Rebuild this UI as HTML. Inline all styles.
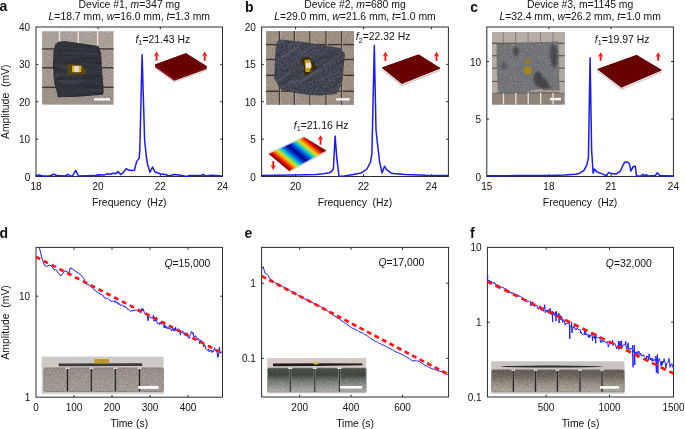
<!DOCTYPE html>
<html><head><meta charset="utf-8"><style>
html,body{margin:0;padding:0;background:#fff;overflow:hidden}
svg{display:block;filter:blur(0.3px)}
text{font-family:"Liberation Sans", sans-serif}
</style></head><body>
<svg width="685" height="429" viewBox="0 0 685 429" font-family='"Liberation Sans", sans-serif' fill="#111">
<defs>
<filter id="soft" x="-5%" y="-5%" width="110%" height="110%"><feGaussianBlur stdDeviation="0.45"/></filter>
<filter id="soft2" x="-5%" y="-5%" width="110%" height="110%"><feGaussianBlur stdDeviation="0.8"/></filter>
<linearGradient id="blkE" x1="0" y1="0" x2="0" y2="1"><stop offset="0" stop-color="#4a5048"/><stop offset="0.3" stop-color="#40463e"/><stop offset="0.55" stop-color="#767a74"/><stop offset="1" stop-color="#acaea8"/></linearGradient>
<linearGradient id="blkF" x1="0" y1="0" x2="0" y2="1"><stop offset="0" stop-color="#5e5951"/><stop offset="0.3" stop-color="#6e695f"/><stop offset="0.65" stop-color="#958f85"/><stop offset="1" stop-color="#aca69c"/></linearGradient>
<linearGradient id="blkD" x1="0" y1="0" x2="0" y2="1"><stop offset="0" stop-color="#958f88"/><stop offset="1" stop-color="#a09b94"/></linearGradient>
<linearGradient id="bgE" x1="0" y1="0" x2="1" y2="0"><stop offset="0" stop-color="#d6cbc8"/><stop offset="1" stop-color="#d2c8c2"/></linearGradient>
<filter id="grain" x="0" y="0" width="100%" height="100%" color-interpolation-filters="sRGB"><feTurbulence type="fractalNoise" baseFrequency="1.1" numOctaves="2" seed="5"/><feColorMatrix type="matrix" values="1.4 0 0 0 -0.2  1.4 0 0 0 -0.2  1.4 0 0 0 -0.2  0 0 0 0 1"/></filter>
<filter id="grainL" x="0" y="0" width="100%" height="100%" color-interpolation-filters="sRGB"><feTurbulence type="fractalNoise" baseFrequency="0.5" numOctaves="2" seed="9"/><feColorMatrix type="matrix" values="1.4 0 0 0 -0.2  1.4 0 0 0 -0.2  1.4 0 0 0 -0.2  0 0 0 0 1"/></filter>
<filter id="blur15" x="-20%" y="-20%" width="140%" height="140%"><feGaussianBlur stdDeviation="1.3"/></filter>
</defs>
<rect width="685" height="429" fill="#fff"/>
<text x="-0.4" y="11.3" font-size="14" text-anchor="start" font-weight="bold" >a</text>
<text x="244.9" y="11.5" font-size="14" text-anchor="start" font-weight="bold" >b</text>
<text x="470.2" y="11.5" font-size="14" text-anchor="start" font-weight="bold" >c</text>
<text x="-0.4" y="238.2" font-size="14" text-anchor="start" font-weight="bold" >d</text>
<text x="244.4" y="238.2" font-size="14" text-anchor="start" font-weight="bold" >e</text>
<text x="469.9" y="237.9" font-size="14" text-anchor="start" font-weight="bold" >f</text>
<text x="129.3" y="7.5" font-size="10.4" text-anchor="middle">Device #1, <tspan font-style="italic">m</tspan>=347 mg</text>
<text x="129.3" y="19.6" font-size="10.4" text-anchor="middle"><tspan font-style="italic">L</tspan>=18.7 mm, <tspan font-style="italic">w</tspan>=16.0 mm, <tspan font-style="italic">t</tspan>=1.3 mm</text>
<text x="355" y="7.5" font-size="10.4" text-anchor="middle">Device #2, <tspan font-style="italic">m</tspan>=680 mg</text>
<text x="355" y="19.6" font-size="10.4" text-anchor="middle"><tspan font-style="italic">L</tspan>=29.0 mm, <tspan font-style="italic">w</tspan>=21.6 mm, <tspan font-style="italic">t</tspan>=1.0 mm</text>
<text x="580.1" y="7.5" font-size="10.4" text-anchor="middle">Device #3, m=1145 mg</text>
<text x="580.1" y="19.6" font-size="10.4" text-anchor="middle"><tspan font-style="italic">L</tspan>=32.4 mm, <tspan font-style="italic">w</tspan>=26.2 mm, <tspan font-style="italic">t</tspan>=1.0 mm</text>
<text x="129.3" y="206.1" font-size="10.4" text-anchor="middle" font-weight="normal" >Frequency  (Hz)</text>
<text x="355" y="206.1" font-size="10.4" text-anchor="middle" font-weight="normal" >Frequency  (Hz)</text>
<text x="580.1" y="206.1" font-size="10.4" text-anchor="middle" font-weight="normal" >Frequency  (Hz)</text>
<text x="129.3" y="427.2" font-size="10.4" text-anchor="middle" font-weight="normal" >Time (s)</text>
<text x="355" y="427.2" font-size="10.4" text-anchor="middle" font-weight="normal" >Time (s)</text>
<text x="580.5" y="427.2" font-size="10.4" text-anchor="middle" font-weight="normal" >Time (s)</text>
<text transform="translate(9.3,101.8) rotate(-90)" font-size="10.4" text-anchor="middle">Amplitude  (mV)</text>
<text transform="translate(9.3,322.4) rotate(-90)" font-size="10.4" text-anchor="middle">Amplitude  (mV)</text>
<rect x="36" y="27" width="186.5" height="149.5" fill="none" stroke="#2a2a2a" stroke-width="1"/>
<path d="M98.1,176.5v-2.3M98.1,27v2.3M160.3,176.5v-2.3M160.3,27v2.3M36,139.12h2.3M222.5,139.12h-2.3M36,101.75h2.3M222.5,101.75h-2.3M36,64.38h2.3M222.5,64.38h-2.3" stroke="#2a2a2a" stroke-width="1" fill="none"/>
<text x="36" y="190" font-size="10" text-anchor="middle" font-weight="normal" >18</text>
<text x="98.1" y="190" font-size="10" text-anchor="middle" font-weight="normal" >20</text>
<text x="160.3" y="190" font-size="10" text-anchor="middle" font-weight="normal" >22</text>
<text x="222.5" y="190" font-size="10" text-anchor="middle" font-weight="normal" >24</text>
<text x="30.2" y="180.5" font-size="10" text-anchor="end" font-weight="normal" >0</text>
<text x="30.2" y="143.12" font-size="10" text-anchor="end" font-weight="normal" >10</text>
<text x="30.2" y="105.75" font-size="10" text-anchor="end" font-weight="normal" >20</text>
<text x="30.2" y="68.38" font-size="10" text-anchor="end" font-weight="normal" >30</text>
<text x="30.2" y="31" font-size="10" text-anchor="end" font-weight="normal" >40</text>
<rect x="261.6" y="27" width="186.8" height="149.5" fill="none" stroke="#2a2a2a" stroke-width="1"/>
<path d="M295.6,176.5v-2.3M295.6,27v2.3M363.5,176.5v-2.3M363.5,27v2.3M431.4,176.5v-2.3M431.4,27v2.3M261.6,139.12h2.3M448.4,139.12h-2.3M261.6,101.75h2.3M448.4,101.75h-2.3M261.6,64.38h2.3M448.4,64.38h-2.3" stroke="#2a2a2a" stroke-width="1" fill="none"/>
<text x="295.6" y="190" font-size="10" text-anchor="middle" font-weight="normal" >20</text>
<text x="363.5" y="190" font-size="10" text-anchor="middle" font-weight="normal" >22</text>
<text x="431.4" y="190" font-size="10" text-anchor="middle" font-weight="normal" >24</text>
<text x="255.8" y="180.5" font-size="10" text-anchor="end" font-weight="normal" >0</text>
<text x="255.8" y="143.12" font-size="10" text-anchor="end" font-weight="normal" >5</text>
<text x="255.8" y="105.75" font-size="10" text-anchor="end" font-weight="normal" >10</text>
<text x="255.8" y="68.38" font-size="10" text-anchor="end" font-weight="normal" >15</text>
<text x="255.8" y="31" font-size="10" text-anchor="end" font-weight="normal" >20</text>
<rect x="486.8" y="27" width="186.6" height="149.5" fill="none" stroke="#2a2a2a" stroke-width="1"/>
<path d="M548.9,176.5v-2.3M548.9,27v2.3M611.1,176.5v-2.3M611.1,27v2.3M486.8,119h2.3M673.4,119h-2.3M486.8,61.5h2.3M673.4,61.5h-2.3" stroke="#2a2a2a" stroke-width="1" fill="none"/>
<text x="486.8" y="190" font-size="10" text-anchor="middle" font-weight="normal" >15</text>
<text x="548.9" y="190" font-size="10" text-anchor="middle" font-weight="normal" >18</text>
<text x="611.1" y="190" font-size="10" text-anchor="middle" font-weight="normal" >21</text>
<text x="673.4" y="190" font-size="10" text-anchor="middle" font-weight="normal" >24</text>
<text x="481" y="180.5" font-size="10" text-anchor="end" font-weight="normal" >0</text>
<text x="481" y="123" font-size="10" text-anchor="end" font-weight="normal" >5</text>
<text x="481" y="65.5" font-size="10" text-anchor="end" font-weight="normal" >10</text>
<rect x="36" y="247.4" width="186.5" height="149.8" fill="none" stroke="#2a2a2a" stroke-width="1"/>
<path d="M74,397.2v-2.3M74,247.4v2.3M112,397.2v-2.3M112,247.4v2.3M150,397.2v-2.3M150,247.4v2.3M188,397.2v-2.3M188,247.4v2.3M36,296.2h2.3M222.5,296.2h-2.3" stroke="#2a2a2a" stroke-width="1" fill="none"/>
<text x="36" y="410.7" font-size="10" text-anchor="middle" font-weight="normal" >0</text>
<text x="74" y="410.7" font-size="10" text-anchor="middle" font-weight="normal" >100</text>
<text x="112" y="410.7" font-size="10" text-anchor="middle" font-weight="normal" >200</text>
<text x="150" y="410.7" font-size="10" text-anchor="middle" font-weight="normal" >300</text>
<text x="188" y="410.7" font-size="10" text-anchor="middle" font-weight="normal" >400</text>
<text x="30.2" y="401.2" font-size="10" text-anchor="end" font-weight="normal" >1</text>
<text x="30.2" y="300.2" font-size="10" text-anchor="end" font-weight="normal" >10</text>
<rect x="261.6" y="247.4" width="187" height="149.6" fill="none" stroke="#2a2a2a" stroke-width="1"/>
<path d="M299.7,397v-2.3M299.7,247.4v2.3M351.1,397v-2.3M351.1,247.4v2.3M402.5,397v-2.3M402.5,247.4v2.3M261.6,283.3h2.3M448.6,283.3h-2.3M261.6,358.3h2.3M448.6,358.3h-2.3" stroke="#2a2a2a" stroke-width="1" fill="none"/>
<text x="299.7" y="410.5" font-size="10" text-anchor="middle" font-weight="normal" >200</text>
<text x="351.1" y="410.5" font-size="10" text-anchor="middle" font-weight="normal" >400</text>
<text x="402.5" y="410.5" font-size="10" text-anchor="middle" font-weight="normal" >600</text>
<text x="255.8" y="287.3" font-size="10" text-anchor="end" font-weight="normal" >1</text>
<text x="255.8" y="362.3" font-size="10" text-anchor="end" font-weight="normal" >0.1</text>
<rect x="487.4" y="247.4" width="186.1" height="149.6" fill="none" stroke="#2a2a2a" stroke-width="1"/>
<path d="M546.1,397v-2.3M546.1,247.4v2.3M609.5,397v-2.3M609.5,247.4v2.3M487.4,322.2h2.3M673.5,322.2h-2.3" stroke="#2a2a2a" stroke-width="1" fill="none"/>
<text x="546.1" y="410.5" font-size="10" text-anchor="middle" font-weight="normal" >500</text>
<text x="609.5" y="410.5" font-size="10" text-anchor="middle" font-weight="normal" >1000</text>
<text x="673.5" y="410.5" font-size="10" text-anchor="middle" font-weight="normal" >1500</text>
<text x="481.6" y="401" font-size="10" text-anchor="end" font-weight="normal" >0.1</text>
<text x="481.6" y="326.2" font-size="10" text-anchor="end" font-weight="normal" >1</text>
<text x="481.6" y="251.4" font-size="10" text-anchor="end" font-weight="normal" >10</text>
<clipPath id="cpA"><polygon points="58.5,41.8 64.8,41 98.5,45.9 101.1,53 102,69 103.8,91.1 102.9,94.7 75.4,97 57.7,97.3 56.8,92 54.2,83.1 52.8,65.4 53.5,51.3 55.2,44.2"/></clipPath>
<clipPath id="cpAr"><rect x="42.1" y="31.3" width="71.4" height="73.3"/></clipPath>
<g filter="url(#soft)">
<rect x="42.1" y="31.3" width="71.4" height="17.2" fill="#a9a098" />
<rect x="42.1" y="48.5" width="71.4" height="19" fill="#a0968e" />
<rect x="42.1" y="67.5" width="71.4" height="19.4" fill="#a29890" />
<rect x="42.1" y="86.9" width="71.4" height="17.7" fill="#9c928a" />
<rect x="42.1" y="31.3" width="71.4" height="73.3" fill="#000" filter="url(#grain)" style="mix-blend-mode:overlay" opacity="0.2"/>
<rect x="42.1" y="48.3" width="71.4" height="1.2" fill="#2e2622" />
<rect x="42.1" y="67.2" width="71.4" height="1.2" fill="#2e2622" />
<rect x="42.1" y="86.6" width="71.4" height="1.2" fill="#2e2622" />
<rect x="58.8" y="31.3" width="1.4" height="17" fill="#f0dcdc" />
<rect x="77.5" y="31.3" width="1.4" height="17" fill="#f0dcdc" />
<rect x="96.9" y="31.3" width="1.4" height="17" fill="#f0dcdc" />
<polygon points="58.5,41.8 64.8,41 98.5,45.9 101.1,53 102,69 103.8,91.1 102.9,94.7 75.4,97 57.7,97.3 56.8,92 54.2,83.1 52.8,65.4 53.5,51.3 55.2,44.2" fill="#313339"/>
<rect x="50" y="40" width="56" height="60" fill="#000" filter="url(#grain)" style="mix-blend-mode:overlay" clip-path="url(#cpA)" opacity="0.25"/>
<g clip-path="url(#cpA)" opacity="0.45"><line x1="94.54" y1="48.66" x2="118.87" y2="49.39" stroke="#24272e" stroke-width="0.86"/><line x1="71.28" y1="84.37" x2="86.39" y2="84.83" stroke="#24272e" stroke-width="0.81"/><line x1="93.82" y1="42.62" x2="110.2" y2="43.11" stroke="#545862" stroke-width="1.36"/><line x1="58.51" y1="80.66" x2="83.76" y2="81.42" stroke="#545862" stroke-width="1.19"/><line x1="43.9" y1="92.38" x2="50.51" y2="92.58" stroke="#24272e" stroke-width="1.14"/><line x1="102.08" y1="80.13" x2="125.5" y2="80.83" stroke="#24272e" stroke-width="1.13"/><line x1="76.28" y1="94.53" x2="90.57" y2="94.96" stroke="#24272e" stroke-width="1.28"/><line x1="99.44" y1="95.28" x2="115.43" y2="95.76" stroke="#545862" stroke-width="1.52"/><line x1="103.54" y1="51.6" x2="130.18" y2="52.4" stroke="#4a4e58" stroke-width="0.72"/><line x1="102.34" y1="92.05" x2="120.36" y2="92.59" stroke="#1c1e24" stroke-width="1.57"/><line x1="78.43" y1="58.29" x2="105.61" y2="59.11" stroke="#24272e" stroke-width="1.45"/><line x1="44.14" y1="74.57" x2="55.97" y2="74.93" stroke="#24272e" stroke-width="1.4"/><line x1="64.76" y1="78.89" x2="91.95" y2="79.71" stroke="#4a4e58" stroke-width="1.38"/><line x1="83.15" y1="45.93" x2="91.74" y2="46.19" stroke="#24272e" stroke-width="0.76"/><line x1="87.43" y1="62.12" x2="104.7" y2="62.64" stroke="#24272e" stroke-width="0.91"/><line x1="52.45" y1="77.89" x2="63.9" y2="78.23" stroke="#1c1e24" stroke-width="0.61"/><line x1="95.34" y1="71.76" x2="106.91" y2="72.11" stroke="#4a4e58" stroke-width="1.11"/><line x1="58.7" y1="67.17" x2="77.85" y2="67.75" stroke="#545862" stroke-width="1.56"/><line x1="95.13" y1="62.87" x2="124.04" y2="63.74" stroke="#1c1e24" stroke-width="1.54"/><line x1="76.8" y1="70.56" x2="93.03" y2="71.05" stroke="#4a4e58" stroke-width="0.66"/><line x1="54.39" y1="73.49" x2="72.5" y2="74.03" stroke="#4a4e58" stroke-width="1.08"/><line x1="42.1" y1="64.62" x2="61.06" y2="65.19" stroke="#4a4e58" stroke-width="1.39"/><line x1="43.73" y1="67.11" x2="55.24" y2="67.46" stroke="#1c1e24" stroke-width="0.78"/><line x1="91.5" y1="90.08" x2="116.63" y2="90.83" stroke="#4a4e58" stroke-width="1.42"/><line x1="100.5" y1="42.85" x2="108.19" y2="43.08" stroke="#24272e" stroke-width="1.47"/><line x1="88.85" y1="41.83" x2="100.84" y2="42.19" stroke="#1c1e24" stroke-width="0.71"/><line x1="46.31" y1="60.63" x2="56.14" y2="60.93" stroke="#1c1e24" stroke-width="1.13"/><line x1="82.19" y1="78.43" x2="95.26" y2="78.82" stroke="#24272e" stroke-width="1.3"/><line x1="43.47" y1="68" x2="58.74" y2="68.46" stroke="#1c1e24" stroke-width="1.02"/><line x1="57.71" y1="55.73" x2="81.24" y2="56.44" stroke="#24272e" stroke-width="1.58"/><line x1="43.29" y1="87.57" x2="49.72" y2="87.76" stroke="#1c1e24" stroke-width="0.75"/><line x1="73.39" y1="66.4" x2="89.63" y2="66.89" stroke="#24272e" stroke-width="1.43"/><line x1="82.21" y1="53.72" x2="97.68" y2="54.19" stroke="#4a4e58" stroke-width="1.18"/><line x1="68.43" y1="78.61" x2="92.13" y2="79.32" stroke="#1c1e24" stroke-width="0.73"/><line x1="61" y1="90.91" x2="87.6" y2="91.7" stroke="#4a4e58" stroke-width="0.91"/><line x1="67.8" y1="83.4" x2="79.86" y2="83.76" stroke="#545862" stroke-width="0.61"/><line x1="55.49" y1="74.66" x2="83.11" y2="75.49" stroke="#545862" stroke-width="1.06"/><line x1="63.51" y1="62.54" x2="74.45" y2="62.87" stroke="#24272e" stroke-width="1.27"/><line x1="72.53" y1="74.71" x2="101.04" y2="75.57" stroke="#24272e" stroke-width="0.99"/><line x1="79.95" y1="41.98" x2="95.61" y2="42.45" stroke="#1c1e24" stroke-width="0.88"/><line x1="62.32" y1="52.45" x2="92.01" y2="53.34" stroke="#4a4e58" stroke-width="1.38"/><line x1="58.53" y1="65.47" x2="66.84" y2="65.72" stroke="#4a4e58" stroke-width="0.98"/><line x1="93.94" y1="93.12" x2="112.76" y2="93.69" stroke="#1c1e24" stroke-width="1.37"/><line x1="44.5" y1="44.72" x2="53.7" y2="45" stroke="#1c1e24" stroke-width="0.77"/><line x1="62.6" y1="56.28" x2="80.74" y2="56.82" stroke="#4a4e58" stroke-width="0.86"/><line x1="60.06" y1="60.4" x2="86.87" y2="61.2" stroke="#24272e" stroke-width="1.2"/><line x1="76.17" y1="48.71" x2="84.68" y2="48.97" stroke="#545862" stroke-width="0.64"/><line x1="103.46" y1="62.67" x2="112.99" y2="62.96" stroke="#545862" stroke-width="0.73"/><line x1="90.48" y1="76.07" x2="105.55" y2="76.52" stroke="#1c1e24" stroke-width="1.17"/><line x1="101.04" y1="73.26" x2="115.8" y2="73.7" stroke="#545862" stroke-width="0.9"/><line x1="59.19" y1="67.09" x2="84.07" y2="67.84" stroke="#545862" stroke-width="1.43"/><line x1="42.9" y1="75.98" x2="58.83" y2="76.46" stroke="#545862" stroke-width="1.43"/><line x1="90.7" y1="51.71" x2="110.78" y2="52.31" stroke="#24272e" stroke-width="0.76"/><line x1="56.97" y1="50.54" x2="80.82" y2="51.26" stroke="#24272e" stroke-width="0.7"/><line x1="75.66" y1="86.97" x2="101.3" y2="87.74" stroke="#24272e" stroke-width="1.15"/><line x1="54.87" y1="58.92" x2="68.49" y2="59.33" stroke="#4a4e58" stroke-width="0.63"/><line x1="61.86" y1="82.41" x2="77.25" y2="82.87" stroke="#545862" stroke-width="1"/><line x1="102.13" y1="93.06" x2="131.4" y2="93.94" stroke="#1c1e24" stroke-width="0.71"/><line x1="90.23" y1="85.75" x2="117.62" y2="86.57" stroke="#24272e" stroke-width="1.47"/><line x1="58.06" y1="78.72" x2="77.06" y2="79.29" stroke="#1c1e24" stroke-width="0.91"/></g>
<polygon points="66.9,64.6 72,64.2 81,65 86.6,71 85.8,74.4 67.5,74.4" fill="#5a4614"/>
<rect x="72" y="65.7" width="9.2" height="6.4" fill="#d4b020" />
<rect x="74.3" y="66" width="4.6" height="6.1" fill="#dcdad2" />
<rect x="94" y="98.2" width="16" height="2.3" fill="#ffffff" />
</g>
<clipPath id="cpB"><polygon points="278,40.2 280,39.5 300,41.5 340.3,48.1 344.9,54.1 343.5,70 342.1,83.9 336.5,94.1 320,95.4 308.6,95 290,92 280.6,89.5 274.1,78.3 275,60 276,44.8"/></clipPath>
<g filter="url(#soft)">
<rect x="266.1" y="31.1" width="87.9" height="73.7" fill="#9c9083" />
<rect x="266.1" y="31.1" width="87.9" height="73.7" fill="#000" filter="url(#grain)" style="mix-blend-mode:overlay" opacity="0.2"/>
<rect x="266.1" y="43.9" width="87.9" height="1.4" fill="#3e3630" />
<rect x="266.1" y="58.8" width="87.9" height="1.4" fill="#3e3630" />
<rect x="266.1" y="74.6" width="87.9" height="1.4" fill="#3e3630" />
<rect x="266.1" y="90.5" width="87.9" height="1.4" fill="#3e3630" />
<rect x="278.8" y="31.1" width="1.4" height="73.7" fill="#463e38" />
<rect x="280.2" y="31.1" width="0.7" height="73.7" fill="#b8ada2" />
<rect x="293.7" y="31.1" width="1.4" height="73.7" fill="#463e38" />
<rect x="295.1" y="31.1" width="0.7" height="73.7" fill="#b8ada2" />
<rect x="309.2" y="31.1" width="1.4" height="73.7" fill="#463e38" />
<rect x="310.6" y="31.1" width="0.7" height="73.7" fill="#b8ada2" />
<rect x="325.4" y="31.1" width="1.4" height="73.7" fill="#463e38" />
<rect x="326.8" y="31.1" width="0.7" height="73.7" fill="#b8ada2" />
<rect x="341" y="31.1" width="1.4" height="73.7" fill="#463e38" />
<rect x="342.4" y="31.1" width="0.7" height="73.7" fill="#b8ada2" />
<polygon points="278,40.2 280,39.5 300,41.5 340.3,48.1 344.9,54.1 343.5,70 342.1,83.9 336.5,94.1 320,95.4 308.6,95 290,92 280.6,89.5 274.1,78.3 275,60 276,44.8" fill="#41454f"/>
<rect x="272" y="38" width="76" height="60" fill="#000" filter="url(#grainL)" style="mix-blend-mode:overlay" clip-path="url(#cpB)" opacity="0.3"/>
<g clip-path="url(#cpB)" opacity="0.5"><line x1="341.72" y1="93.54" x2="349.08" y2="89.12" stroke="#2c2f36" stroke-width="0.57"/><line x1="318.92" y1="81.21" x2="332.31" y2="73.18" stroke="#6a6e7a" stroke-width="0.98"/><line x1="276.99" y1="72.55" x2="293.32" y2="62.75" stroke="#5c606c" stroke-width="0.81"/><line x1="300.48" y1="70.47" x2="312.92" y2="63.01" stroke="#6a6e7a" stroke-width="0.53"/><line x1="340.41" y1="60.38" x2="368.2" y2="43.71" stroke="#2c2f36" stroke-width="0.84"/><line x1="283.36" y1="71.39" x2="289.93" y2="67.45" stroke="#2c2f36" stroke-width="0.76"/><line x1="293.49" y1="68.57" x2="311.82" y2="57.57" stroke="#34373f" stroke-width="0.95"/><line x1="324.22" y1="84.62" x2="351.98" y2="67.96" stroke="#5c606c" stroke-width="1.11"/><line x1="334.44" y1="60.27" x2="351.13" y2="50.25" stroke="#34373f" stroke-width="1.26"/><line x1="301.84" y1="80.05" x2="320.56" y2="68.81" stroke="#34373f" stroke-width="0.89"/><line x1="332.19" y1="68.05" x2="346.68" y2="59.35" stroke="#34373f" stroke-width="1.21"/><line x1="323.52" y1="59.64" x2="342.9" y2="48.01" stroke="#2c2f36" stroke-width="0.87"/><line x1="330.8" y1="92.67" x2="356.84" y2="77.05" stroke="#5c606c" stroke-width="1.2"/><line x1="303.34" y1="83.29" x2="316.62" y2="75.32" stroke="#34373f" stroke-width="1.14"/><line x1="281.04" y1="57.46" x2="299.33" y2="46.49" stroke="#6a6e7a" stroke-width="1.25"/><line x1="292" y1="83.92" x2="298.2" y2="80.2" stroke="#6a6e7a" stroke-width="1.15"/><line x1="317.54" y1="43.29" x2="330.09" y2="35.76" stroke="#6a6e7a" stroke-width="0.68"/><line x1="275.19" y1="82.24" x2="287.57" y2="74.82" stroke="#6a6e7a" stroke-width="1.16"/><line x1="322.79" y1="63.68" x2="329.56" y2="59.62" stroke="#2c2f36" stroke-width="0.79"/><line x1="265.92" y1="53.97" x2="274.69" y2="48.71" stroke="#6a6e7a" stroke-width="0.55"/><line x1="265.73" y1="80.85" x2="277.87" y2="73.57" stroke="#2c2f36" stroke-width="1.15"/><line x1="306.89" y1="81.15" x2="312.94" y2="77.52" stroke="#2c2f36" stroke-width="0.97"/><line x1="266.97" y1="48.48" x2="281.23" y2="39.92" stroke="#6a6e7a" stroke-width="0.99"/><line x1="304.08" y1="56.02" x2="317.48" y2="47.98" stroke="#6a6e7a" stroke-width="0.94"/><line x1="325.96" y1="90.51" x2="352.66" y2="74.49" stroke="#34373f" stroke-width="1.06"/><line x1="271.66" y1="93.69" x2="294.16" y2="80.19" stroke="#6a6e7a" stroke-width="1.17"/><line x1="335.73" y1="65.08" x2="344.79" y2="59.64" stroke="#34373f" stroke-width="0.97"/><line x1="290.89" y1="67.27" x2="317.88" y2="51.08" stroke="#5c606c" stroke-width="0.77"/><line x1="298.42" y1="73.94" x2="304.85" y2="70.08" stroke="#2c2f36" stroke-width="0.95"/><line x1="284.74" y1="77.55" x2="293.9" y2="72.05" stroke="#34373f" stroke-width="0.64"/><line x1="305.68" y1="75.56" x2="335.28" y2="57.8" stroke="#2c2f36" stroke-width="1.25"/><line x1="300.47" y1="53.02" x2="312.48" y2="45.81" stroke="#5c606c" stroke-width="0.97"/><line x1="298.69" y1="54.37" x2="317.32" y2="43.19" stroke="#6a6e7a" stroke-width="0.5"/><line x1="277.14" y1="61.55" x2="295.43" y2="50.57" stroke="#6a6e7a" stroke-width="0.57"/><line x1="278.9" y1="45.59" x2="290.46" y2="38.65" stroke="#34373f" stroke-width="0.67"/><line x1="307.91" y1="65.42" x2="323.03" y2="56.34" stroke="#2c2f36" stroke-width="1.05"/><line x1="299.57" y1="80.82" x2="317.84" y2="69.85" stroke="#6a6e7a" stroke-width="0.96"/><line x1="340.17" y1="89.36" x2="360.12" y2="77.39" stroke="#34373f" stroke-width="1.24"/><line x1="306.58" y1="60.51" x2="334.69" y2="43.64" stroke="#5c606c" stroke-width="0.99"/><line x1="340.46" y1="78.66" x2="353.86" y2="70.62" stroke="#34373f" stroke-width="1.2"/><line x1="289.09" y1="45.67" x2="315.26" y2="29.96" stroke="#6a6e7a" stroke-width="1.04"/><line x1="268.92" y1="85.48" x2="290.21" y2="72.7" stroke="#6a6e7a" stroke-width="0.87"/><line x1="265.98" y1="40.3" x2="279.32" y2="32.29" stroke="#2c2f36" stroke-width="1.08"/><line x1="279.77" y1="82.28" x2="299.49" y2="70.45" stroke="#34373f" stroke-width="0.81"/><line x1="292.29" y1="47.82" x2="319.59" y2="31.44" stroke="#6a6e7a" stroke-width="0.7"/><line x1="333.71" y1="44.51" x2="355.09" y2="31.68" stroke="#6a6e7a" stroke-width="1.27"/><line x1="318.05" y1="41.38" x2="342.7" y2="26.59" stroke="#34373f" stroke-width="1.08"/><line x1="342.69" y1="56.28" x2="352.08" y2="50.65" stroke="#34373f" stroke-width="0.8"/><line x1="303.16" y1="69.47" x2="332.07" y2="52.13" stroke="#34373f" stroke-width="1.14"/><line x1="288.33" y1="86.82" x2="299.89" y2="79.88" stroke="#5c606c" stroke-width="0.89"/><line x1="321.04" y1="70.72" x2="343.82" y2="57.05" stroke="#6a6e7a" stroke-width="0.57"/><line x1="278.44" y1="43.98" x2="297.53" y2="32.53" stroke="#6a6e7a" stroke-width="1.15"/><line x1="338.73" y1="84.72" x2="361.08" y2="71.31" stroke="#6a6e7a" stroke-width="1.15"/><line x1="288.3" y1="47.2" x2="299.86" y2="40.26" stroke="#5c606c" stroke-width="1.04"/><line x1="306.97" y1="64.58" x2="315.66" y2="59.36" stroke="#34373f" stroke-width="0.93"/><line x1="306.35" y1="45.38" x2="329.52" y2="31.48" stroke="#2c2f36" stroke-width="0.71"/><line x1="321.66" y1="65.81" x2="337.36" y2="56.39" stroke="#2c2f36" stroke-width="1.3"/><line x1="322.95" y1="66.13" x2="348.38" y2="50.87" stroke="#2c2f36" stroke-width="0.81"/><line x1="268.39" y1="62" x2="280.97" y2="54.46" stroke="#34373f" stroke-width="0.7"/><line x1="302.74" y1="79.5" x2="331.83" y2="62.05" stroke="#6a6e7a" stroke-width="0.76"/><line x1="333.87" y1="82.65" x2="345.27" y2="75.81" stroke="#34373f" stroke-width="1"/><line x1="295.37" y1="85.71" x2="322.51" y2="69.43" stroke="#5c606c" stroke-width="1.23"/><line x1="322.35" y1="66.01" x2="349.55" y2="49.7" stroke="#6a6e7a" stroke-width="1.02"/><line x1="341.34" y1="40.96" x2="364.85" y2="26.86" stroke="#2c2f36" stroke-width="0.99"/><line x1="272.24" y1="89.54" x2="297.81" y2="74.2" stroke="#2c2f36" stroke-width="1.11"/><line x1="339.55" y1="55.37" x2="359.48" y2="43.41" stroke="#2c2f36" stroke-width="0.89"/><line x1="319.65" y1="40.48" x2="337.22" y2="29.93" stroke="#2c2f36" stroke-width="0.91"/><line x1="280.81" y1="66.16" x2="310.01" y2="48.64" stroke="#6a6e7a" stroke-width="0.56"/><line x1="307.72" y1="90.72" x2="329.78" y2="77.48" stroke="#34373f" stroke-width="0.55"/><line x1="339.62" y1="91.8" x2="356.65" y2="81.58" stroke="#34373f" stroke-width="1.2"/></g>
<polygon points="302,58 309,56.5 313,63 317.5,67.5 315,70 311,70 309,75 304,74.5 304,66 300.5,60" fill="#3a2c10"/>
<polygon points="304.5,60 310,59.5 312,66 309.5,72 305.5,72" fill="#c89a18"/>
<rect x="306" y="62.5" width="4.8" height="5.5" fill="#e6e2d6" />
<rect x="336.2" y="98.2" width="13.5" height="2.3" fill="#ffffff" />
</g>
<clipPath id="cpC"><polygon points="496.7,43.8 511.3,43.8 513.9,45.6 516.6,42.8 558.3,41.5 559.1,83.2 560,90.3 543.2,90.3 541.4,88.5 525.5,92 499.7,93.8 498,88.5 496.7,65.5"/></clipPath>
<g filter="url(#soft)">
<rect x="492.1" y="32.1" width="72.4" height="72.4" fill="#a39a92" />
<rect x="492.1" y="32.1" width="72.4" height="72.4" fill="#000" filter="url(#grain)" style="mix-blend-mode:overlay" opacity="0.2"/>
<rect x="492.1" y="32.1" width="72.4" height="11.2" fill="#b6aea6" />
<rect x="492.1" y="92.9" width="72.4" height="11.6" fill="#8e847c" />
<rect x="492.1" y="42.8" width="72.4" height="1.1" fill="#5e5650" />
<rect x="492.1" y="55.2" width="72.4" height="1.1" fill="#5e5650" />
<rect x="492.1" y="67.6" width="72.4" height="1.1" fill="#5e5650" />
<rect x="492.1" y="80.9" width="72.4" height="1.1" fill="#5e5650" />
<rect x="492.1" y="92.4" width="72.4" height="1.1" fill="#5e5650" />
<rect x="502.8" y="32.1" width="1" height="11.2" fill="#8a8078" />
<rect x="502.8" y="92.9" width="1.3" height="11.6" fill="#e6e0d6" />
<rect x="515.2" y="32.1" width="1" height="11.2" fill="#8a8078" />
<rect x="515.2" y="92.9" width="1.3" height="11.6" fill="#e6e0d6" />
<rect x="527.6" y="32.1" width="1" height="11.2" fill="#8a8078" />
<rect x="527.6" y="92.9" width="1.3" height="11.6" fill="#e6e0d6" />
<rect x="540" y="32.1" width="1" height="11.2" fill="#8a8078" />
<rect x="540" y="92.9" width="1.3" height="11.6" fill="#e6e0d6" />
<rect x="552.4" y="32.1" width="1" height="11.2" fill="#8a8078" />
<rect x="552.4" y="92.9" width="1.3" height="11.6" fill="#e6e0d6" />
<rect x="492.1" y="43.3" width="4.6" height="12.4" fill="#b4aca4" />
<rect x="559.5" y="43.3" width="5" height="12.4" fill="#b0a8a0" />
<rect x="492.1" y="42.8" width="72.4" height="1.1" fill="#5e5650" />
<rect x="492.1" y="55.7" width="4.6" height="12.4" fill="#b4aca4" />
<rect x="559.5" y="55.7" width="5" height="12.4" fill="#b0a8a0" />
<rect x="492.1" y="55.2" width="72.4" height="1.1" fill="#5e5650" />
<rect x="492.1" y="68.1" width="4.6" height="13.3" fill="#b4aca4" />
<rect x="559.5" y="68.1" width="5" height="13.3" fill="#b0a8a0" />
<rect x="492.1" y="67.6" width="72.4" height="1.1" fill="#5e5650" />
<rect x="492.1" y="81.4" width="4.6" height="11.5" fill="#b4aca4" />
<rect x="559.5" y="81.4" width="5" height="11.5" fill="#b0a8a0" />
<rect x="492.1" y="80.9" width="72.4" height="1.1" fill="#5e5650" />
<polygon points="496.7,43.8 511.3,43.8 513.9,45.6 516.6,42.8 558.3,41.5 559.1,83.2 560,90.3 543.2,90.3 541.4,88.5 525.5,92 499.7,93.8 498,88.5 496.7,65.5" fill="#737477"/>
<rect x="492" y="32" width="73" height="73" fill="#000" filter="url(#grain)" style="mix-blend-mode:overlay" clip-path="url(#cpC)" opacity="0.2"/>
<g clip-path="url(#cpC)" filter="url(#blur15)">
<path d="M552,44 Q557,45 557.5,54 Q558,64 555,68 Q551,66 550.5,58 Q549,48 552,44 Z" fill="#2e2e30" opacity="0.6"/>
<path d="M536,72 Q541,71 542,76 Q547,80 549,86 Q544,90 540,88 Q536,86 534,82 Q533,76 536,72 Z" fill="#303032" opacity="0.7"/>
<path d="M514,47 Q518,46 519,51 Q518,57 515,56 Q512,52 514,47 Z" fill="#3e3e40" opacity="0.8"/>
<ellipse cx="504" cy="66" rx="3" ry="4" fill="#505052" opacity="0.7"/>
<ellipse cx="548" cy="87" rx="3" ry="1.6" fill="#3a3a3c" opacity="0.7"/>
</g>
<polygon points="525,59.6 529,59.5 529.8,62.5 528,64.5 525.5,64" fill="#9a7c1c"/>
<polygon points="524,66.8 530.5,66.2 531.5,71.8 528.5,74.6 524.4,74" fill="#a4841c"/>
<rect x="549.9" y="97.9" width="11" height="2.4" fill="#ffffff" />
</g>
<g filter="url(#soft)">
<polygon points="155.1,64.4 155.1,68.5 174.4,82.3 206.8,70.4 206.8,66.3 185.9,53.3" fill="#c4c4c4"/>
<polygon points="155.1,64.4 155.1,67.7 174.4,81.5 206.8,69.6 206.8,66.3 185.9,53.3" fill="#f6f6f6"/>
<polygon points="155.1,64.4 155.1,67 174.4,80.8 206.8,68.9 206.8,66.3 185.9,53.3" fill="#7a0606"/>
<polygon points="155.1,64.4 155.1,67 174.4,80.8 174.4,78.2" fill="#900e0e"/>
<polygon points="155.1,64.4 185.9,53.3 206.8,66.3 174.4,78.2" fill="#680000"/>
<polygon points="382.1,67.4 382.1,70.3 401.8,86.2 440.1,70.9 440.1,68 418.6,54.6" fill="#c2c2c2"/>
<polygon points="382.1,67.4 382.1,69.2 401.8,85.1 440.1,69.8 440.1,68 418.6,54.6" fill="#f2f2f2"/>
<polygon points="382.1,67.4 382.1,68.1 401.8,84 440.1,68.7 440.1,68 418.6,54.6" fill="#820606"/>
<polygon points="382.1,67.4 418.6,54.6 440.1,68 401.8,83.3" fill="#680000"/>
<polygon points="597.5,68.9 597.5,71.8 621.3,90 661.6,72.8 661.6,69.9 636.6,54.9" fill="#c2c2c2"/>
<polygon points="597.5,68.9 597.5,70.7 621.3,88.9 661.6,71.7 661.6,69.9 636.6,54.9" fill="#f2f2f2"/>
<polygon points="597.5,68.9 597.5,69.6 621.3,87.8 661.6,70.6 661.6,69.9 636.6,54.9" fill="#820606"/>
<polygon points="597.5,68.9 636.6,54.9 661.6,69.9 621.3,87.1" fill="#680000"/>
<line x1="156.5" y1="55.44" x2="156.5" y2="60.7" stroke="#ff1010" stroke-width="1.8"/>
<polygon points="156.5,51.6 153.8,56.4 156.5,55.2 159.2,56.4" fill="#ff1010"/>
<line x1="204.7" y1="55.44" x2="204.7" y2="60.7" stroke="#ff1010" stroke-width="1.8"/>
<polygon points="204.7,51.6 202,56.4 204.7,55.2 207.4,56.4" fill="#ff1010"/>
<line x1="385.4" y1="55.64" x2="385.4" y2="60.9" stroke="#ff1010" stroke-width="1.8"/>
<polygon points="385.4,51.8 382.7,56.6 385.4,55.4 388.1,56.6" fill="#ff1010"/>
<line x1="436.5" y1="55.64" x2="436.5" y2="60.9" stroke="#ff1010" stroke-width="1.8"/>
<polygon points="436.5,51.8 433.8,56.6 436.5,55.4 439.2,56.6" fill="#ff1010"/>
<line x1="600.6" y1="56.04" x2="600.6" y2="60.8" stroke="#ff1010" stroke-width="1.8"/>
<polygon points="600.6,52.2 597.9,57 600.6,55.8 603.3,57" fill="#ff1010"/>
<line x1="658.1" y1="56.04" x2="658.1" y2="60.8" stroke="#ff1010" stroke-width="1.8"/>
<polygon points="658.1,52.2 655.4,57 658.1,55.8 660.8,57" fill="#ff1010"/>
<polygon points="268.2,152.5 304.4,135.9 304.4,137.3 268.7,154.1" fill="#d6d6d6"/>
<polygon points="289,170.9 326.4,150.5 327,152.1 289,172.5" fill="#d0d0d0"/>
<g transform="matrix(35.7 -16.8 20.3 16.8 268.7 154.1)"><polygon points="0,0 1,0 1.108,0.894 0,1" fill="url(#jetU)"/></g>
<linearGradient id="jetU" gradientUnits="userSpaceOnUse" x1="0" y1="0" x2="1.06" y2="0">
<stop offset="0" stop-color="#7a0000"/><stop offset="0.05" stop-color="#b00000"/><stop offset="0.1" stop-color="#f02000"/>
<stop offset="0.16" stop-color="#ff8a00"/><stop offset="0.21" stop-color="#e0dc10"/><stop offset="0.27" stop-color="#70d880"/>
<stop offset="0.33" stop-color="#00b8d8"/><stop offset="0.4" stop-color="#0050e0"/><stop offset="0.5" stop-color="#00008c"/>
<stop offset="0.6" stop-color="#0050e0"/><stop offset="0.67" stop-color="#00b8d8"/><stop offset="0.73" stop-color="#70d880"/>
<stop offset="0.79" stop-color="#e0dc10"/><stop offset="0.84" stop-color="#ff8a00"/><stop offset="0.9" stop-color="#f02000"/>
<stop offset="0.95" stop-color="#b00000"/><stop offset="1" stop-color="#7a0000"/></linearGradient>
<line x1="273.2" y1="166.06" x2="273.2" y2="161" stroke="#ff1010" stroke-width="1.8"/>
<polygon points="273.2,169.9 270.5,165.1 273.2,166.3 275.9,165.1" fill="#ff1010"/>
<line x1="320.5" y1="139.04" x2="320.5" y2="144.7" stroke="#ff1010" stroke-width="1.8"/>
<polygon points="320.5,135.2 317.8,140 320.5,138.8 323.2,140" fill="#ff1010"/>
</g>
<g filter="url(#soft)">
<rect x="41.8" y="356.6" width="121.8" height="37.2" fill="#cdc9c4" />
<rect x="43.9" y="367.9" width="22.9" height="23.6" rx="1.5" fill="url(#blkD)" stroke="#77726b" stroke-width="0.7"/>
<rect x="68.2" y="367.9" width="22.4" height="23.6" rx="1.5" fill="url(#blkD)" stroke="#77726b" stroke-width="0.7"/>
<rect x="92" y="367.9" width="22.7" height="23.6" rx="1.5" fill="url(#blkD)" stroke="#77726b" stroke-width="0.7"/>
<rect x="116.1" y="367.9" width="22.7" height="23.6" rx="1.5" fill="url(#blkD)" stroke="#77726b" stroke-width="0.7"/>
<rect x="140.2" y="367.9" width="23.1" height="23.6" rx="1.5" fill="url(#blkD)" stroke="#77726b" stroke-width="0.7"/>
<rect x="43.9" y="367.9" width="119.4" height="23.6" fill="#000" filter="url(#grain)" style="mix-blend-mode:overlay" opacity="0.2"/>
<rect x="66.95" y="367.6" width="1.1" height="24.2" fill="#262422" />
<ellipse cx="67.5" cy="368.2" rx="2.2" ry="0.9" fill="#d8d2ca"/>
<rect x="90.75" y="367.6" width="1.1" height="24.2" fill="#262422" />
<ellipse cx="91.3" cy="368.2" rx="2.2" ry="0.9" fill="#d8d2ca"/>
<rect x="114.85" y="367.6" width="1.1" height="24.2" fill="#262422" />
<ellipse cx="115.4" cy="368.2" rx="2.2" ry="0.9" fill="#d8d2ca"/>
<rect x="138.95" y="367.6" width="1.1" height="24.2" fill="#262422" />
<ellipse cx="139.5" cy="368.2" rx="2.2" ry="0.9" fill="#d8d2ca"/>
<polygon points="58.5,363.6 142,363.2 142.5,366 59,366.3" fill="#3a3a3c"/>
<path d="M94.3,363.4 L94.6,359.6 Q95,359 96,359 L108,359 Q109,359 109.2,360 L109.2,363.4 Z" fill="#b89a2a"/>
<rect x="138.2" y="386" width="20.3" height="2.9" fill="#ffffff" />
<rect x="267.1" y="358.1" width="99" height="35.3" fill="url(#bgE)" />
<rect x="267.6" y="367.9" width="22" height="23.9" rx="1.5" fill="url(#blkE)" stroke="#8a8e88" stroke-width="0.7"/>
<rect x="291" y="367.9" width="23.1" height="23.9" rx="1.5" fill="url(#blkE)" stroke="#8a8e88" stroke-width="0.7"/>
<rect x="315.5" y="367.9" width="23.2" height="23.9" rx="1.5" fill="url(#blkE)" stroke="#8a8e88" stroke-width="0.7"/>
<rect x="340.1" y="367.9" width="26" height="23.9" rx="1.5" fill="url(#blkE)" stroke="#8a8e88" stroke-width="0.7"/>
<rect x="267.6" y="367.9" width="98.5" height="23.9" fill="#000" filter="url(#grain)" style="mix-blend-mode:overlay" opacity="0.2"/>
<rect x="289.75" y="367.6" width="1.1" height="24.5" fill="#2a2a2a" />
<ellipse cx="290.3" cy="368.2" rx="2.2" ry="0.9" fill="#e4e0da"/>
<rect x="314.25" y="367.6" width="1.1" height="24.5" fill="#2a2a2a" />
<ellipse cx="314.8" cy="368.2" rx="2.2" ry="0.9" fill="#e4e0da"/>
<rect x="338.85" y="367.6" width="1.1" height="24.5" fill="#2a2a2a" />
<ellipse cx="339.4" cy="368.2" rx="2.2" ry="0.9" fill="#e4e0da"/>
<path d="M272.9,363.6 Q318,362.8 362.4,363.6 L362.4,365.2 Q318,366.2 273.1,366.2 Z" fill="#1e1e1e"/>
<ellipse cx="316" cy="362.9" rx="2.8" ry="1.5" fill="#c8c450"/>
<rect x="339.9" y="386" width="22" height="2.6" fill="#ffffff" />
<rect x="491.2" y="361.3" width="133.3" height="32.3" fill="#c8c5c0" />
<rect x="491.6" y="369.8" width="21" height="21.9" rx="1.5" fill="url(#blkF)" stroke="#8a857d" stroke-width="0.7"/>
<rect x="514" y="369.8" width="20.8" height="21.9" rx="1.5" fill="url(#blkF)" stroke="#8a857d" stroke-width="0.7"/>
<rect x="536.2" y="369.8" width="20.5" height="21.9" rx="1.5" fill="url(#blkF)" stroke="#8a857d" stroke-width="0.7"/>
<rect x="558.1" y="369.8" width="21.2" height="21.9" rx="1.5" fill="url(#blkF)" stroke="#8a857d" stroke-width="0.7"/>
<rect x="580.7" y="369.8" width="20.6" height="21.9" rx="1.5" fill="url(#blkF)" stroke="#8a857d" stroke-width="0.7"/>
<rect x="602.7" y="369.8" width="21.6" height="21.9" rx="1.5" fill="url(#blkF)" stroke="#8a857d" stroke-width="0.7"/>
<rect x="491.6" y="369.8" width="132.7" height="21.9" fill="#000" filter="url(#grain)" style="mix-blend-mode:overlay" opacity="0.2"/>
<rect x="512.65" y="369.5" width="1.3" height="22.5" fill="#2a2826" />
<ellipse cx="513.3" cy="370.1" rx="2.2" ry="0.9" fill="#d8d2ca"/>
<rect x="534.85" y="369.5" width="1.3" height="22.5" fill="#2a2826" />
<ellipse cx="535.5" cy="370.1" rx="2.2" ry="0.9" fill="#d8d2ca"/>
<rect x="556.75" y="369.5" width="1.3" height="22.5" fill="#2a2826" />
<ellipse cx="557.4" cy="370.1" rx="2.2" ry="0.9" fill="#d8d2ca"/>
<rect x="579.35" y="369.5" width="1.3" height="22.5" fill="#2a2826" />
<ellipse cx="580" cy="370.1" rx="2.2" ry="0.9" fill="#d8d2ca"/>
<rect x="601.35" y="369.5" width="1.3" height="22.5" fill="#2a2826" />
<ellipse cx="602" cy="370.1" rx="2.2" ry="0.9" fill="#d8d2ca"/>
<path d="M500.5,366.4 Q506,365.6 550,365.4 Q598,365.6 604.5,366.5 Q598,367.4 550,367.6 Q506,367.4 500.5,366.4 Z" fill="#2a2a2a"/>
<rect x="600" y="386.1" width="19.2" height="2.6" fill="#ffffff" />
</g>
<polyline points="36.3,175.6 39,175 42.9,176 49.5,176 54,174.3 56.7,175.6 65.2,176 67.9,174.3 69.8,176 72.5,176 75.7,170.4 78.4,176 95,175.6 98.3,174.7 104.5,174.9 107.8,173.8 110.3,174.3 112.9,173.2 115.8,173.6 118,171.6 120.5,174.6 123.1,172.9 126,168.7 128.6,170 131.5,170.5 134.4,170.2 136.6,161.6 139.2,158.1 139.8,150 142.1,54.8 144.6,140 146.5,158 147.7,165 150,172.2 152.6,167 155,172 160.2,173.7 164.3,174.5 165.7,174.5 168.5,176 174.2,174.5 179,175 187,176.5 189.4,175.5 201.7,175.2 203.2,174.5 205.5,176 211.2,175.3 222,176" fill="none" stroke="#1a1aff" stroke-width="1.5" stroke-linejoin="round" stroke-linecap="round" />
<polyline points="262.1,175.4 293,175.1 316.4,174.6 323.4,173.8 329.2,172.8 331.3,171.8 333.4,169 335.1,136.1 336.9,159.2 339,176 343.2,176.2 353,174.6 361.4,172.9 367,169 370.5,162 371.9,153.6 374.3,45.3 376,130 377.5,143.8 379.6,162 382.1,172.9 384.5,166.2 386.6,169.7 390.8,172.9 393.2,173.5 405.4,174.5 425.9,175.3 448,175.5" fill="none" stroke="#1a1aff" stroke-width="1.5" stroke-linejoin="round" stroke-linecap="round" />
<polyline points="487.3,175.8 520,175.6 550,175.4 565,174.9 575.6,174.3 579.8,173.2 584,170.4 586.8,164.8 588.4,158 590.1,57.7 591.6,150 592.4,162 593.1,173.2 594.5,169 596.6,171.8 602.2,173.9 606.7,175.7 608.5,172.5 611.3,173.6 616.2,173.9 620.4,171.1 622.5,166.2 624.6,162.3 627.4,162 629.5,164.1 630.9,171.1 633.3,166.4 635.3,166.3 636.5,175.9 641.4,175.9 643,174.3 644.3,175.9 646.3,174.7 648,175.9 655.3,175.5 657.3,172.7 659.8,175.6 673,176" fill="none" stroke="#1a1aff" stroke-width="1.5" stroke-linejoin="round" stroke-linecap="round" />
<polyline points="39.3,247.4 42.2,259 44.5,265.4 46.8,266.6 49.2,265.1 51.5,266 54.4,270.1 55.6,269.5 60.9,276 65,270.7 69,273 70.2,267.8 72.5,269 80.7,274.8 84.2,278.9 85.4,283.5 90,285.3 92.4,288.2 98.2,292.9 100,293.4 100,293.32 100.6,294.6 101.2,294.46 101.8,294.47 102.4,295.7 103,295.37 103.6,295.89 104.2,297.37 104.8,298.32 105.4,298.1 106,297.61 106.6,298.51 107.2,298.27 107.8,298.32 108.4,299.28 109,299.71 109.6,299.98 110.2,300.22 110.8,301.38 111.4,301.44 112,300.9 112.6,301.16 113.2,301.89 113.8,301.82 114.4,301.8 115,300.48 115.6,302.36 116.2,302.9 116.8,301.87 117.4,303.42 118,302.74 118.6,304.57 119.2,303.64 119.8,304.04 120.4,305.58 121,305.37 121.6,304.96 122.2,305.04 122.8,305.19 123.4,305.52 124,306.91 124.6,306.08 125.2,306.46 125.8,308.02 126.4,307.35 127,308.06 127.6,309.49 128.2,309.26 128.8,309.46 129.4,310.23 130,310.76 130.6,311.6 131.2,310.88 131.8,310.15 132.4,311.2 133,310.05 133.6,310.73 134.2,309.75 134.8,310.75 135.4,310.14 136,309.79 136.6,310.36 137.2,310.65 137.8,311.45 138.4,311.03 139,311.11 139.6,312.15 140.2,312.27 140.8,313.07 141.4,309.53 142,308.08 142.6,310.8 143.2,308.93 143.8,310.92 144.4,312.64 145,314.12 145.6,314.74 146.2,313.4 146.8,312.87 147.4,316.11 148,320.78 148.6,316.87 149.2,316.46 149.8,317.51 150.4,316.98 151,317.94 151.6,318.1 152.2,318.07 152.8,318.14 153.4,315.23 154,321.29 154.6,319.97 155.2,321.11 155.8,319.71 156.4,316.98 157,322.57 157.6,324.08 158.2,323.45 158.8,324.08 159.4,324.66 160,322.13 160.6,322.11 161.2,324.45 161.8,322.71 162.4,323.2 163,323.6 163.6,324.53 164.2,327.9 164.8,324.53 165.4,327.89 166,326.36 166.6,327.83 167.2,328.83 167.8,327.25 168.4,327.4 169,329.14 169.6,328.28 170.2,329.33 170.8,329.06 171.4,330.67 172,330.7 172.6,327.71 173.2,329.95 173.8,330.89 174.4,328 175,331.11 175.6,327.11 176.2,329.63 176.8,330.46 177.4,330.94 178,330.71 178.6,328.76 179.2,331.46 179.8,330.17 180.4,335.2 181,331.49 181.6,332.05 182.2,332.06 182.8,330.82 183.4,333.93 184,332.95 184.6,332.78 185.2,335.31 185.8,333.14 186.4,335.43 187,332.75 187.6,334.8 188.2,337.76 188.8,337.59 189.4,338.44 190,335.64 190.6,334.37 191.2,331.68 191.8,331.7 192.4,334.04 193,332.56 193.6,336.16 194.2,335.95 194.8,337.18 195.4,335.64 196,337.02 196.6,337.35 197.2,338.55 197.8,340.06 198.4,338.52 199,339.61 199.6,343.61 200.2,342.04 200.8,340.07 201.4,340.42 202,343.77 202.6,343.41 203.2,343.25 203.8,346.76 204.4,344.71 205,345.2 205.6,348.63 206.2,348.56 206.8,349.36 207.4,350 208,350.78 208.6,348.84 209.2,351.99 209.8,351 210.4,351.03 211,349.93 211.6,351.3 212.2,352.53 212.8,350.53 213.4,351.49 214,350.07 214.6,347.78 215.2,349.77 215.8,351.06 216.4,351.64 217,350.63 217.6,357.29 218.2,357.11 218.8,353.06 219.4,347.16 220,353.25 220.6,353 221.2,351.9 221.8,352.28" fill="none" stroke="#1a1aff" stroke-width="1.0" stroke-linejoin="round" stroke-linecap="round" />
<line x1="36" y1="256.9" x2="222.3" y2="353.2" stroke="#ff1414" stroke-width="2.7" stroke-dasharray="4.7 4.1" stroke-dashoffset="0"/>
<polyline points="261.7,267.6 263.3,266.8 264.7,272.8 267.6,274.6 269.9,278.6 270,278.66 271.2,279.74 272.4,280.23 273.6,281.36 274.8,282.6 276,283.21 277.2,283.55 278.4,284.19 279.6,284.75 280.8,285.39 282,286.2 283.2,287.18 284.4,287.26 285.6,288.2 286.8,289.17 288,289.18 289.2,289.83 290.4,290.81 291.6,291.54 292.8,291.85 294,292.69 295.2,293.51 296.4,294.04 297.6,294.96 298.8,295.81 300,296.06 301.2,296.97 302.4,297.25 303.6,298.1 304.8,299.09 306,299.23 307.2,300.19 308.4,300.72 309.6,301.52 310.8,302 312,302.55 313.2,302.86 314.4,303.49 315.6,303.88 316.8,304.66 318,305.51 319.2,306.17 320.4,306.62 321.6,307.42 322.8,308.35 324,308.49 325.2,309.69 326.4,310.15 327.6,310.84 328.8,312.33 330,312.82 331.2,313.52 332.4,314.71 333.6,315.12 334.8,316.12 336,316.8 337.2,318.07 338.4,318.47 339.6,319.28 340.8,320.27 342,321.23 343.2,321.76 344.4,322.86 345.6,323.3 346.8,324.32 348,325.15 349.2,326.06 350.4,327.14 351.6,327.83 352.8,328.31 354,329.05 355.2,329.34 356.4,330.22 357.6,330.31 358.8,331.53 360,332.13 361.2,332.47 362.4,332.97 363.6,333.55 364.8,334.55 366,335.01 367.2,335.62 368.4,336.93 369.6,337.51 370.8,338.47 372,339.25 373.2,340.07 374.4,340.98 375.6,341.7 376.8,341.67 378,342.56 379.2,343.32 380.4,343.62 381.6,344.71 382.8,344.9 384,345.39 385.2,346 386.4,346.8 387.6,347.17 388.8,348.09 390,348.44 391.2,349.47 392.4,349.64 393.6,350.62 394.8,351.16 396,351.98 397.2,352.37 398.4,353 399.6,353.42 400.8,353.87 402,354.4 403.2,355 404.4,355.98 405.6,356.66 406.8,357.01 408,358.12 409.2,358.34 410.4,359.59 411.6,360.31 412.8,360.88 414,360.73 415.2,360.72 416.4,361.02 417.6,360.59 418.8,361.7 420,361.81 421.2,363.14 422.4,363.53 423.6,364.25 424.8,365.4 426,365.7 427.2,366.32 428.4,367.07 429.6,367.66 430.8,368.15 432,368.47 433.2,369.34 434.4,369.2 435.6,369.9 436.8,370.29 438,370.89 439.2,371.18 440.4,371.49 441.6,371.34 442.8,371.55 444,371.78 445.2,372.7 446.4,373.74 447.6,374.34" fill="none" stroke="#1a1aff" stroke-width="1.0" stroke-linejoin="round" stroke-linecap="round" />
<line x1="261.7" y1="276.1" x2="448.6" y2="374.6" stroke="#ff1414" stroke-width="2.7" stroke-dasharray="4.9 3.6" stroke-dashoffset="0"/>
<polyline points="487.7,275.1 487.7,280.7 489.5,280.57 490.1,281.8 490.7,281.01 491.3,281.22 491.9,282.81 492.5,282.67 493.1,282.45 493.7,283.94 494.3,282.43 494.9,283.02 495.5,284.78 496.1,285.12 496.7,285.69 497.3,284.46 497.9,285.27 498.5,285.74 499.1,285.6 499.7,285.79 500.3,287.23 500.9,287.93 501.5,287.32 502.1,286.73 502.7,287.75 503.3,287.56 503.9,288.01 504.5,289.12 505.1,288.41 505.7,288.98 506.3,289.23 506.9,289.3 507.5,291.57 508.1,291.39 508.7,290.25 509.3,292.26 509.9,292.23 510.5,292.07 511.1,293.45 511.7,292.25 512.3,292.92 512.9,292.7 513.5,294.03 514.1,293.47 514.7,294.58 515.3,294.39 515.9,294.65 516.5,294.56 517.1,294.75 517.7,294.95 518.3,296.32 518.9,295.49 519.5,296.45 520.1,296.01 520.7,296.57 521.3,297.19 521.9,297.07 522.5,298.02 523.1,297.57 523.7,299 524.3,299.39 524.9,300.07 525.5,299.01 526.1,301.29 526.7,300.2 527.3,301.85 527.9,301.62 528.5,301.21 529.1,301.47 529.7,301.45 530.3,301.24 530.9,306.01 531.5,303.43 532.1,303.21 532.7,301.67 533.3,305.77 533.9,304.14 534.5,306.68 535.1,305.9 535.7,305.67 536.3,305.49 536.9,304.9 537.5,308.43 538.1,308.83 538.7,309.22 539.3,306.44 539.9,306.71 540.5,306.11 541.1,310.38 541.7,310.51 542.3,309.37 542.9,310.56 543.5,311.32 544.1,308.87 544.7,304.71 545.3,312.89 545.9,312.07 546.5,310.06 547.1,311.81 547.7,310.01 548.3,309.58 548.9,313.22 549.5,310.71 550.1,308.34 550.7,311.27 551.3,314.25 551.9,314.36 552.2,311 552.7,322 552.5,311.6 553.1,314.31 553.7,312.12 554.3,315.43 554.9,314.97 555.5,312.31 555.5,312 556,321 556.1,311.1 556.7,314.15 557.3,315.18 557.9,316.77 558.5,316.75 558.7,313 559.2,323 559.1,315.85 559.7,314.62 560.3,315.39 560.9,320.06 561.5,316.45 562.1,318.09 562.7,322.34 563.3,320.01 563.9,319.66 564.5,321.91 565.1,325.14 565.7,323.25 566.3,323.47 566.9,323.48 567.5,323.41 568.1,322.1 568.7,320.76 569.3,324.38 569.3,321 569.8,339 569.9,326.19 570.5,326.39 571.1,325.89 571.7,327.69 571.5,322 572,333 572.3,328.18 572.9,327.55 573.5,328.01 574.1,326.14 574.7,327.84 575.3,329.67 575.9,328.82 576.5,329.64 577.1,328.1 577.7,328.65 578.3,329.54 578.9,329.49 579.5,330.12 580.1,329.36 580.7,333.23 581.3,332.29 581.9,333.97 582.5,334.69 583.1,334.31 583.7,334.02 584.3,334.73 584.9,329.37 585.5,334.43 586.1,333.49 586.7,334.82 587.3,334.5 587.9,336 588.5,337.4 589.1,334.42 589.7,337.51 590.3,335.37 590.9,335.38 591.5,335.09 592.1,335.25 592,333 592.5,341 592.7,337.19 593.3,337.86 593.9,336.6 594.5,335.53 595.1,339.15 595.2,334 595.7,343.3 595.7,333.9 596.3,336.59 596.9,337.87 597.5,337.78 598.1,337.93 598.7,337.34 599.3,337.6 599.9,337.36 600.5,342.42 601.1,340.81 601.7,342.28 602.3,339.93 602.9,340.71 603.5,342.07 604.1,341.32 604.7,341.17 605.3,342.65 605.9,342.93 606.5,342.52 607.1,341.42 607.7,342.58 608.3,347.04 608.9,344.83 609.5,343.94 610.1,342.61 610.7,343.54 611.3,343.12 611.9,343.23 612.5,340.39 613.1,345.6 613.7,344.45 614.3,343.5 614.9,343.4 615.5,345.38 616.1,346.78 616.7,348.83 617.3,348.05 617.9,345.58 618.5,345.36 618.3,341.2 618.8,349.6 619.1,343.77 619.7,346.73 620,341 620.5,349 620.3,344.32 620.9,346.97 621.5,340.85 622.1,347.64 622.7,345.94 623.3,345.08 623.9,344.68 624.5,344.69 625.1,345.32 625.7,341.26 626.3,348.42 626.9,349.03 627.5,347.84 628.1,342.87 628.7,349.42 629.3,349.07 629.9,348.18 630.5,349.72 631.1,348.61 631.7,348.53 632.3,347.87 632.6,345.2 633.1,367.3 632.9,349.99 633.5,351.71 634.1,349.13 634.3,345 634.8,365 634.7,353.1 635.3,352.16 635.9,352.94 636.5,353.18 637.1,351.45 637.7,357.63 638.3,351.99 638.9,351.12 639.5,353.35 640.1,354.73 640.7,353.12 641.3,356.05 641.9,355.67 642.5,355.92 643.1,354.73 643.7,354.99 644.3,356.82 644.9,357.47 645.5,358 646.1,360.53 646.7,355.95 647.3,356.69 647.9,356.08 648.5,360.25 649.1,353.85 649.7,356.93 650.3,359.98 650.9,357.93 651.5,358.3 652.1,361.38 652.7,358.4 653.3,361 653.9,359.81 654.5,359.79 655.1,359.86 655.7,361.15 655.9,356 656.4,372.5 656.3,358.49 656.9,359.04 657.5,359.47 657.4,354.5 657.9,373.7 658.1,360.66 658.7,360.37 659.3,358.45 659.9,361.27 660.5,362.2 661.1,366.03 661.7,361.11 662.3,364.63 662.9,361.01 663.5,362.34 664.1,358.71 664.7,361.58 665.3,363.11 665.9,368.23 666.5,363.39 667.1,362.88 667.7,362.69 668.3,361.99 668.9,358.4 669.5,361.57 670.1,367.39 670.7,364.46 671.3,364.69 671.9,363.6 672.5,367.09 673.1,367.21" fill="none" stroke="#1a1aff" stroke-width="1.0" stroke-linejoin="round" stroke-linecap="round" />
<line x1="487.6" y1="281.6" x2="673.6" y2="373.6" stroke="#ff1414" stroke-width="2.7" stroke-dasharray="5.6 4.1" stroke-dashoffset="0.9"/>
<text x="164.4" y="266.6" font-size="10.4" text-anchor="start" font-weight="normal" ><tspan font-style="italic">Q</tspan>=15,000</text>
<text x="378.4" y="266.4" font-size="10.4" text-anchor="start" font-weight="normal" ><tspan font-style="italic">Q</tspan>=17,000</text>
<text x="605.8" y="266.7" font-size="10.4" text-anchor="start" font-weight="normal" ><tspan font-style="italic">Q</tspan>=32,000</text>
<text x="135.6" y="42.8" font-size="10.4"><tspan font-style="italic">f</tspan><tspan font-size="7.2" dy="2.3">1</tspan><tspan dy="-2.3">=21.43 Hz</tspan></text>
<text x="355.8" y="40.4" font-size="10.4"><tspan font-style="italic">f</tspan><tspan font-size="7.2" dy="2.3">2</tspan><tspan dy="-2.3">=22.32 Hz</tspan></text>
<text x="293.8" y="129" font-size="10.4"><tspan font-style="italic">f</tspan><tspan font-size="7.2" dy="2.3">1</tspan><tspan dy="-2.3">=21.16 Hz</tspan></text>
<text x="594.8" y="43.1" font-size="10.4"><tspan font-style="italic">f</tspan><tspan font-size="7.2" dy="2.3">1</tspan><tspan dy="-2.3">=19.97 Hz</tspan></text>
</svg>
</body></html>
